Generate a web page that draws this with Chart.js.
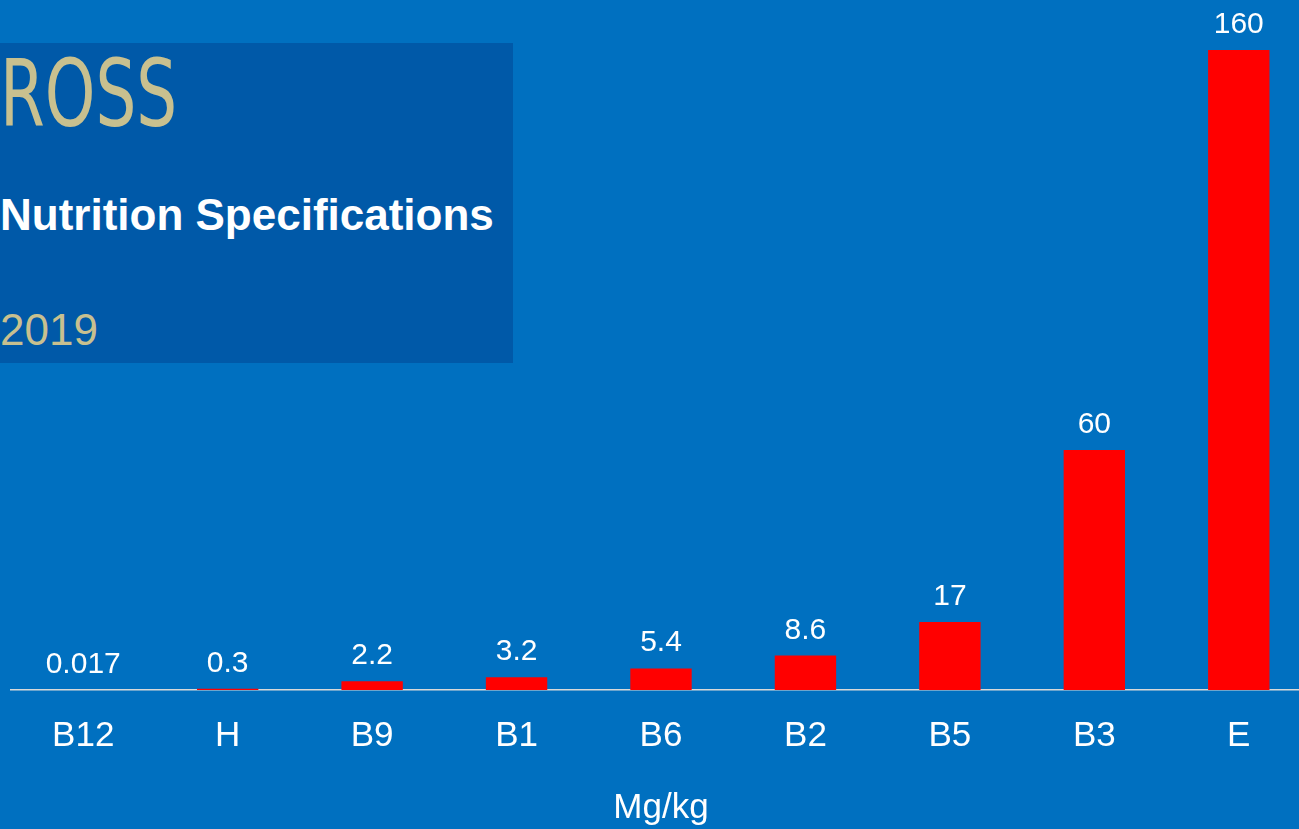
<!DOCTYPE html>
<html>
<head>
<meta charset="utf-8">
<script src="https://cdn.jsdelivr.net/npm/chart.js@4.4.1/dist/chart.umd.min.js"></script>
<style>
  html, body { margin: 0; padding: 0; background: #0070C0; overflow: hidden; }
  #wrap { position: relative; width: 1312px; height: 829px; }
  #box { position: absolute; left: 0; top: 43px; width: 513px; height: 320px; background: #0059A8; }
  .txt { position: absolute; left: 0; white-space: nowrap; line-height: 1; font-family: "Liberation Sans", Arial, sans-serif; }
  #ross { top: 48px; font-size: 93px; color: #C8C08F; font-family: "Liberation Sans Narrow", "DejaVu Sans Condensed", sans-serif; transform: scaleX(0.77); transform-origin: left top; }
  #spec { top: 193px; font-size: 44px; font-weight: bold; color: #fff; }
  #year { top: 308px; font-size: 44px; color: #C8C08F; }
  #chart { position: absolute; left: 0; top: 0; }
</style>
</head>
<body>
<div id="wrap">
  <div id="box"></div>
  <div class="txt" id="ross">ROSS</div>
  <div class="txt" id="spec">Nutrition Specifications</div>
  <div class="txt" id="year">2019</div>
  <canvas id="chart" width="1312" height="829"></canvas>
</div>
<script>
const vitamins = ['B12', 'H', 'B9', 'B1', 'B6', 'B2', 'B5', 'B3', 'E'];
const amounts = [0.017, 0.3, 2.2, 3.2, 5.4, 8.6, 17, 60, 160];
const unitLabel = 'Mg/kg';

const fontFamily = '"Liberation Sans", Arial, sans-serif';

// write the value above every bar
const valueLabels = {
    id: 'valueLabels',
    afterDatasetsDraw(chart) {
        const ctx = chart.ctx;
        const meta = chart.getDatasetMeta(0);
        ctx.save();
        ctx.font = '30px ' + fontFamily;
        ctx.fillStyle = '#ffffff';
        ctx.textAlign = 'center';
        ctx.textBaseline = 'alphabetic';
        meta.data.forEach((bar, i) => {
            ctx.fillText(String(amounts[i]), bar.x, bar.y - 17);
        });
        ctx.restore();
    }
};

new Chart(document.getElementById('chart'), {
    type: 'bar',
    data: {
        labels: vitamins,
        datasets: [{
            data: amounts,
            backgroundColor: '#FF0000',
            borderWidth: 0,
            barPercentage: 0.425,
            categoryPercentage: 1
        }]
    },
    options: {
        responsive: false,
        animation: false,
        layout: { padding: { top: 50, left: 11, right: 1, bottom: 0 } },
        plugins: {
            legend: { display: false },
            tooltip: { enabled: false }
        },
        scales: {
            x: {
                grid: { display: false, drawTicks: false },
                border: { display: true, color: '#D9D9D9', width: 1.5 },
                ticks: {
                    color: '#ffffff',
                    padding: 25,
                    font: { family: fontFamily, size: 35 }
                },
                title: {
                    display: true,
                    text: unitLabel,
                    color: '#ffffff',
                    padding: { top: 5, bottom: 0 },
                    font: { family: fontFamily, size: 35 }
                }
            },
            y: {
                display: false,
                min: 0,
                max: 160
            }
        }
    },
    plugins: [valueLabels]
});
</script>
</body>
</html>
